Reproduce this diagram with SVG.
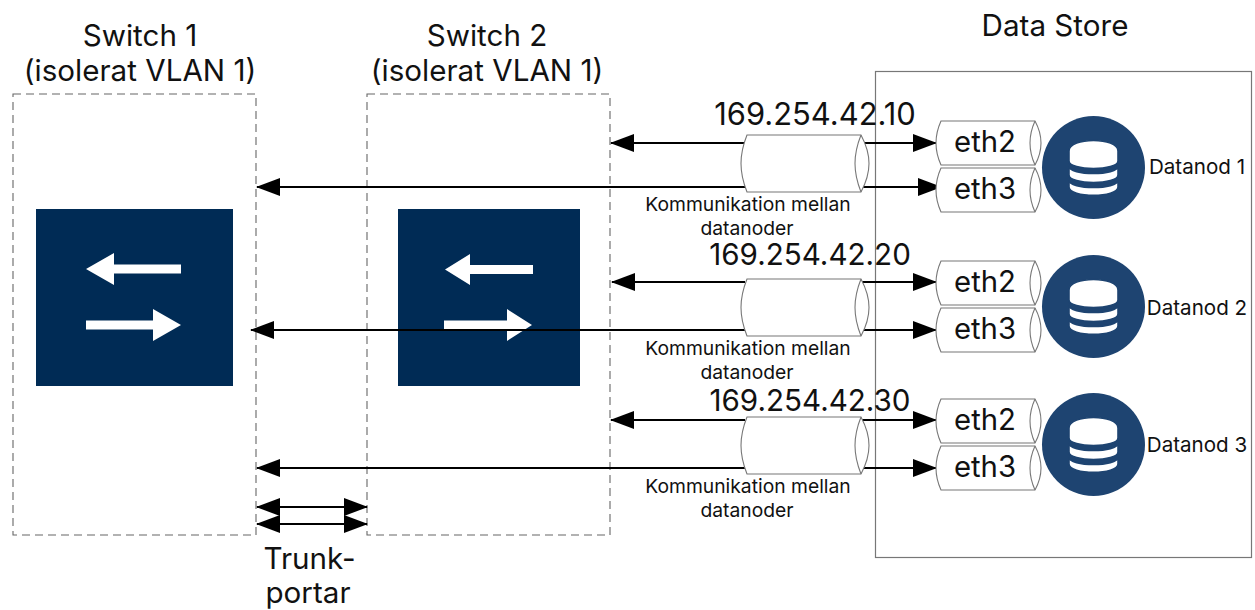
<svg xmlns="http://www.w3.org/2000/svg" xmlns:xlink="http://www.w3.org/1999/xlink" width="1255" height="610" viewBox="0 0 1255 610">
<style>
text{font-family:"Inter","Liberation Sans",sans-serif;fill:#111;text-anchor:middle}
.t{font-size:29.600px}.ip{font-size:30.900px}.ip2{font-size:29.600px}.eth{font-size:29.300px}.k{font-size:19.300px}.d{font-size:20.600px}
.dash{fill:#fff;stroke:#666;stroke-width:1.1;stroke-dasharray:8 5}
.cyl{fill:#fff;stroke:#777;stroke-width:1.1}
.ln{stroke:#000;stroke-width:2;fill:none}
.sw{fill:#002b55}.w{fill:#fff}.c{fill:#1e4471}
.db{fill:#fff;stroke:#1e4471;stroke-width:1.6}
</style>
<defs>
<marker id="ah" markerUnits="userSpaceOnUse" markerWidth="24" markerHeight="18" refX="23" refY="9" orient="auto-start-reverse" viewBox="0 0 24 18"><path d="M0 0L24 9L0 18Z" fill="#000"/></marker>
<g id="big"><path class="cyl" d="M747 135H861Q869 150 869 163.500Q869 177 861 192H747Q741 177 741 163.500Q741 150 747 135Z"/><path class="cyl" d="M861 135Q855 150 855 163.500Q855 177 861 192"/></g>
<g id="small"><path class="cyl" d="M941 0H1035Q1041 11 1041 22Q1041 33 1035 44H941Q936 33 936 22Q936 11 941 0Z"/><path class="cyl" d="M1035 0Q1030 11 1030 22Q1030 33 1035 44"/></g>
<g id="dbicon"><circle class="c" cx="1093.500" cy="167.500" r="51.500"/>
<path class="db" d="M1069 180V187C1069 198 1118 198 1118 187V180C1118 190 1069 190 1069 180Z"/>
<path class="db" d="M1069 166V175C1069 185 1118 185 1118 175V166C1118 176 1069 176 1069 166Z"/>
<path class="db" d="M1069 151V161C1069 171 1118 171 1118 161V151C1118 137 1069 137 1069 151Z"/></g>
</defs>
<g id="switch1"><rect class="dash" x="13" y="94" width="243" height="441"/><rect class="sw" x="36" y="209" width="197" height="177"/>
<path class="w" d="M86 269L114 253V264.500H181V273.500H114V285Z"/><path class="w" d="M181 325L153 309V320.500H86V329.500H153V341Z"/>
<text class="t" x="140" y="46">Switch 1</text><text class="t" x="140" y="81">(isolerat VLAN 1)</text></g>
<g id="switch2"><rect class="dash" x="367" y="94" width="243" height="441"/><rect class="sw" x="398" y="209" width="182" height="177"/>
<path class="w" d="M445 269.500L470 254V265H533V274H470V285Z"/><path class="w" d="M532 325L507 309V320.500H444V329.500H507V341Z"/>
<text class="t" x="487" y="46">Switch 2</text><text class="t" x="487" y="81">(isolerat VLAN 1)</text></g>
<g id="datastore"><rect x="875.500" y="71.500" width="376" height="486" fill="none" stroke="#777" stroke-width="1.2"/><text class="t" x="1055" y="36">Data Store</text></g>
<g id="connectors">
<path class="ln" marker-start="url(#ah)" d="M611 143H745"/><path class="ln" marker-end="url(#ah)" d="M862 143H936"/>
<path class="ln" marker-start="url(#ah)" d="M257 187H745"/><path class="ln" marker-end="url(#ah)" d="M862 187H941"/>
<path class="ln" marker-start="url(#ah)" d="M612 282H745"/><path class="ln" marker-end="url(#ah)" d="M862 282H936"/>
<path class="ln" marker-start="url(#ah)" d="M251 330H745"/><path class="ln" marker-end="url(#ah)" d="M862 330H936"/>
<path class="ln" marker-start="url(#ah)" d="M611 420H745"/><path class="ln" marker-end="url(#ah)" d="M862 420H936"/>
<path class="ln" marker-start="url(#ah)" d="M257 468H745"/><path class="ln" marker-end="url(#ah)" d="M862 468H936"/>
<path class="ln" marker-start="url(#ah)" marker-end="url(#ah)" d="M257 507H367"/>
<path class="ln" marker-start="url(#ah)" marker-end="url(#ah)" d="M257 524H367"/>
</g>
<g id="link1"><use href="#big"/><text class="ip" x="815" y="125">169.254.42.10</text><text class="k" x="748" y="211">Kommunikation mellan</text><text class="k" x="747" y="235">datanoder</text></g>
<g id="link2" transform="translate(0,144)"><use href="#big"/><text class="k" x="748" y="211">Kommunikation mellan</text><text class="k" x="747" y="235">datanoder</text></g>
<text class="ip2" x="810" y="265">169.254.42.20</text>
<g id="link3" transform="translate(0,282)"><use href="#big"/><text class="k" x="748" y="211">Kommunikation mellan</text><text class="k" x="747" y="235">datanoder</text></g>
<text class="ip2" x="810" y="411">169.254.42.30</text>
<g id="node1"><use href="#small" y="121"/><use href="#small" y="168"/><text class="eth" x="985" y="152">eth2</text><text class="eth" x="985" y="199">eth3</text><use href="#dbicon"/><text class="d" x="1197" y="174">Datanod 1</text></g>
<g id="node2"><use href="#small" y="261"/><use href="#small" y="308"/><text class="eth" x="985" y="292">eth2</text><text class="eth" x="985" y="339">eth3</text><use href="#dbicon" y="139"/><text class="d" x="1197" y="315">Datanod 2</text></g>
<g id="node3"><use href="#small" y="399"/><use href="#small" y="446"/><text class="eth" x="985" y="430">eth2</text><text class="eth" x="985" y="477">eth3</text><use href="#dbicon" y="277"/><text class="d" x="1197" y="452">Datanod 3</text></g>
<g id="trunk"><text class="t" x="309.500" y="569">Trunk-</text><text class="t" x="308" y="603">portar</text></g>
</svg>
